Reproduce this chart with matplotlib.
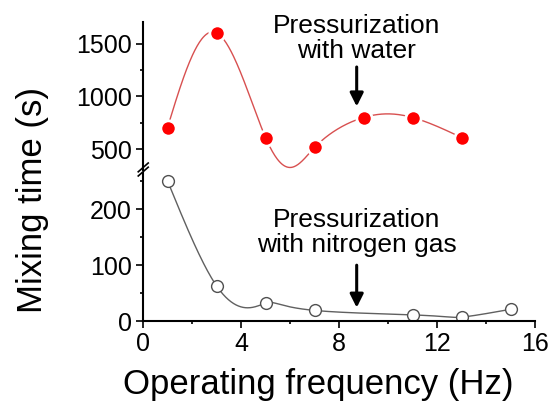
import numpy as np
import matplotlib.pyplot as plt

plt.rcParams['font.family'] = ['Liberation Sans', 'DejaVu Sans']

# data
freq_water = [1, 3, 5, 7, 9, 11, 13]
time_water = [705, 1605, 610, 515, 800, 800, 610]
freq_n2 = [1, 3, 5, 7, 11, 13, 15]
time_n2 = [251, 63, 32, 19, 11, 7, 21]
x_ticks = [0, 4, 8, 12, 16]


def natural_spline(t, y, ts):
    # natural cubic spline with numpy only
    t = np.asarray(t, float)
    y = np.asarray(y, float)
    n = len(t)
    h = np.diff(t)
    A = np.zeros((n, n))
    b = np.zeros(n)
    A[0, 0] = A[-1, -1] = 1
    for i in range(1, n - 1):
        A[i, i - 1] = h[i - 1]
        A[i, i] = 2 * (h[i - 1] + h[i])
        A[i, i + 1] = h[i]
        b[i] = 6 * ((y[i + 1] - y[i]) / h[i] - (y[i] - y[i - 1]) / h[i - 1])
    M = np.linalg.solve(A, b)
    idx = np.clip(np.searchsorted(t, ts) - 1, 0, n - 2)
    t0, t1 = t[idx], t[idx + 1]
    hh = t1 - t0
    a, c = t1 - ts, ts - t0
    return (M[idx] * a**3 / (6 * hh) + M[idx + 1] * c**3 / (6 * hh)
            + (y[idx] / hh - M[idx] * hh / 6) * a
            + (y[idx + 1] / hh - M[idx + 1] * hh / 6) * c)


def smooth_curve(ax, x, y, alpha=-0.5):
    # parametric spline in screen space, knots spaced by chord**alpha
    pts = ax.transData.transform(np.column_stack([x, y]))
    d = np.hypot(*np.diff(pts, axis=0).T) ** alpha
    t = np.concatenate([[0], np.cumsum(d)])
    ts = np.linspace(0, t[-1], 500)
    sx = natural_spline(t, pts[:, 0], ts)
    sy = natural_spline(t, pts[:, 1], ts)
    return ax.transData.inverted().transform(np.column_stack([sx, sy])).T


fig = plt.figure(figsize=(5.53, 4.18), dpi=100)
ax_top = fig.add_axes([0.2586, 0.593, 0.709, 0.355])
ax_bot = fig.add_axes([0.2586, 0.232, 0.709, 0.354])

for ax in (ax_top, ax_bot):
    ax.set_xlim(0, 16)
    ax.spines['top'].set_visible(False)
    ax.spines['right'].set_visible(False)
    ax.spines['left'].set_linewidth(1.5)
    ax.tick_params(axis='both', which='both', direction='out', width=1.2, labelsize=18)
    ax.tick_params(which='major', length=5, pad=3)
    ax.tick_params(which='minor', length=2.5)

ax_top.set_ylim(300, 1710)
ax_top.set_yticks([500, 1000, 1500])
ax_top.set_yticks([750, 1250], minor=True)
ax_top.spines['bottom'].set_visible(False)
ax_top.set_xticks([])
ax_top.tick_params(axis='x', which='both', bottom=False, labelbottom=False)

ax_bot.set_ylim(0, 265)
ax_bot.set_yticks([0, 100, 200])
ax_bot.set_yticks([50, 150, 250], minor=True)
ax_bot.set_xticks(x_ticks)
ax_bot.set_xticks([2, 6, 10, 14], minor=True)
ax_bot.spines['bottom'].set_linewidth(1.5)

cx, cy = smooth_curve(ax_top, freq_water, time_water)
ax_top.plot(cx, cy, color='#d85050', lw=1)
ax_top.plot(freq_water, time_water, 'o', color='red', ms=11, mec='white', mew=2)

cx, cy = smooth_curve(ax_bot, freq_n2, time_n2)
ax_bot.plot(cx, cy, color='#606060', lw=1)
ax_bot.plot(freq_n2, time_n2, 'o', mfc='white', mec='#505050', ms=8.5, mew=1)

# break marks on the y axis
for off in (0.0, 0.010):
    fig.add_artist(plt.Line2D([0.250, 0.268], [0.579 + off, 0.600 + off],
                              color='k', lw=1.2, transform=fig.transFigure))

ax_top.text(8.72, 1550, 'Pressurization\nwith water', ha='center', va='center',
            fontsize=19, linespacing=1.05, clip_on=False)
ax_top.annotate('', xy=(8.72, 905), xytext=(8.72, 1280),
                arrowprops=dict(arrowstyle='-|>', color='k', lw=2.2,
                                mutation_scale=20, shrinkA=0, shrinkB=0))
ax_bot.text(8.72, 159, 'Pressurization\nwith nitrogen gas', ha='center', va='center',
            fontsize=19, linespacing=1.05)
ax_bot.annotate('', xy=(8.72, 24), xytext=(8.72, 100),
                arrowprops=dict(arrowstyle='-|>', color='k', lw=2.2,
                                mutation_scale=20, shrinkA=0, shrinkB=0))

fig.text(0.058, 0.522, 'Mixing time (s)', rotation=90, ha='center', va='center', fontsize=25)
fig.text(0.575, 0.081, 'Operating frequency (Hz)', ha='center', va='center', fontsize=25)

fig.savefig('out.png', dpi=100)
